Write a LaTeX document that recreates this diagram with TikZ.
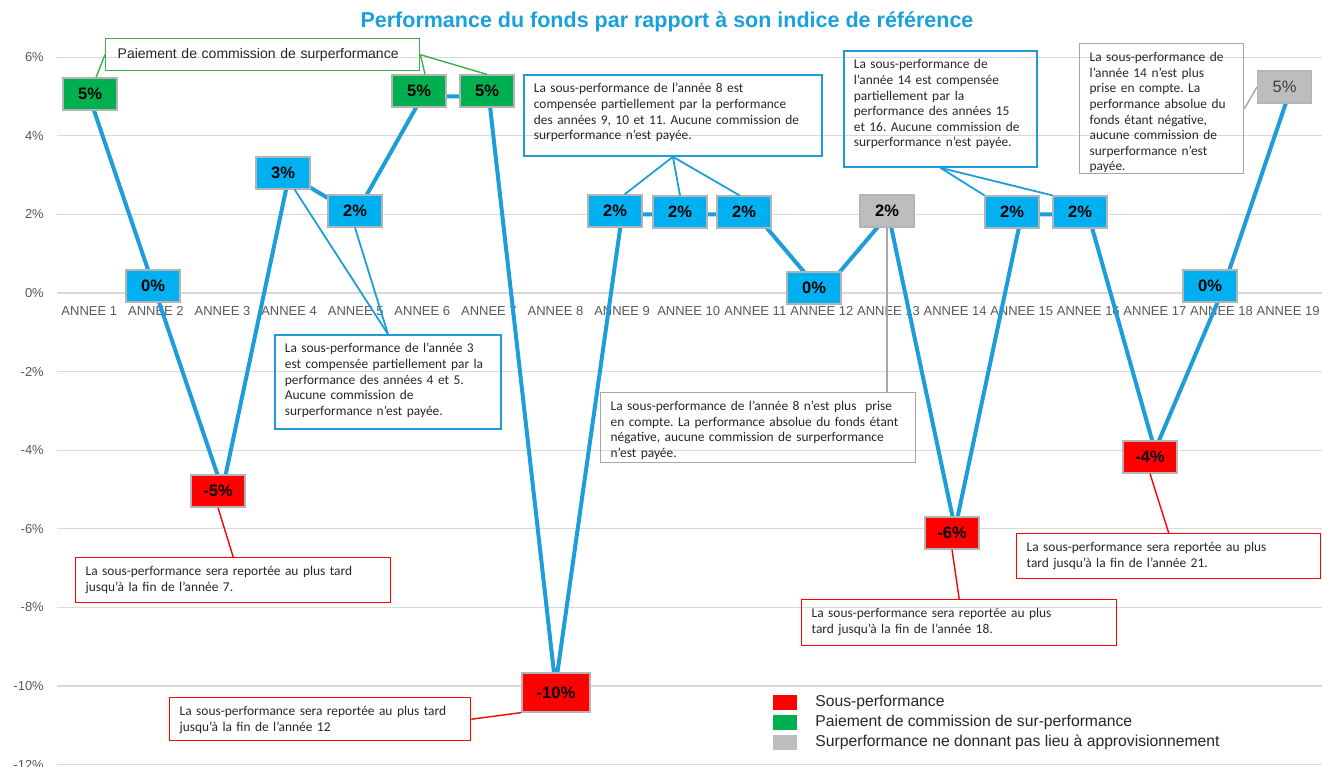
\documentclass[tikz,border=0pt]{standalone}
\usepackage{fontspec}
\setmainfont{Liberation Sans}
\newfontfamily\notefont{Carlito}
\usepackage{xcolor}
\definecolor{lineblue}{HTML}{1E9ED9}
\definecolor{titleblue}{HTML}{1AA0DC}
\definecolor{valblue}{HTML}{00B0F0}
\definecolor{valgreen}{HTML}{00B050}
\definecolor{valred}{HTML}{FF0000}
\definecolor{valgray}{HTML}{BDBDBD}
\definecolor{valedge}{HTML}{B4B4B4}
\definecolor{gridgray}{HTML}{D9D9D9}
\definecolor{axisgray}{HTML}{595959}
\definecolor{notegray}{HTML}{A6A6A6}
\definecolor{notegreen}{HTML}{3DAE49}
\definecolor{inkgray}{HTML}{262626}
\usepackage{tikz}
\usetikzlibrary{positioning, calc}
\frenchspacing
\tikzset{
    val/.style = {rectangle, draw=valedge, line width=1.2pt, minimum width=54pt,
                  minimum height=32pt, inner sep=0pt,
                  font=\fontsize{16.5}{16.5}\selectfont\bfseries},
    blueval/.style = {val, fill=valblue},
    greenval/.style = {val, fill=valgreen},
    redval/.style = {val, fill=valred},
    grayval/.style = {val, fill=valgray},
    note/.style = {rectangle, anchor=north west, align=left, text=inkgray,
                   inner xsep=10pt, inner ysep=6pt, text height=12pt,
                   font=\notefont\frenchspacing\fontsize{13.4}{15.6}\selectfont},
    bluenote/.style = {note, draw=lineblue, line width=1.8pt},
    graynote/.style = {note, draw=notegray, line width=1.4pt},
    rednote/.style = {note, draw=valred, line width=1.4pt},
    series/.style = {line width=4pt, color=lineblue, line join=round},
    bluelink/.style = {line width=1.8pt, color=lineblue},
    graylink/.style = {line width=1.4pt, color=notegray},
    redlink/.style = {line width=1.4pt, color=valred},
    greenlink/.style = {line width=1.4pt, color=notegreen},
    gridline/.style = {line width=1.2pt, color=gridgray},
    axislabel/.style = {font=\fontsize{13}{13}\selectfont, text=axisgray},
    legbox/.style = {rectangle, minimum width=24pt, minimum height=15pt, inner sep=0pt},
    legtext/.style = {anchor=west, inner sep=0pt, text=inkgray,
                      font=\fontsize{15.7}{16}\selectfont},
}
\begin{document}
\begin{tikzpicture}[x=1pt, y=-1pt]
    \useasboundingbox (0,0) rectangle (1322,767);
    % grid and axes
    \foreach \v in {6,4,...,-12} {
        \draw[gridline] (57,{293-39.3*\v}) -- (1322,{293-39.3*\v});
        \node[axislabel, anchor=east, inner sep=0pt] at (44,{293-39.3*\v}) {\v\%};
    }
    \foreach \i in {1,...,19}
        \node[axislabel] at ({89.3+(\i-1)*66.6},311) {ANNEE \i};

    \node[font=\fontsize{21.5}{24}\selectfont\bfseries, text=titleblue] (title) at (667,22)
        {Performance du fonds par rapport à son indice de référence};

    % series
    \foreach \v [count=\i] in {5,0,-5,3,2,5,5,-10,2,2,2,0,2,-6,2,2,-4,0,5}
        \coordinate (p\i) at ({89.3+(\i-1)*66.6},{293-39.3*\v});
    \draw[series] (p1) \foreach \i in {2,...,19} { -- (p\i) };

    % data labels
    \node[greenval] (v1) at (90,94) {5\%};
    \node[blueval] (v2) at (153,286) {0\%};
    \node[redval] (v3) at (218,491) {-5\%};
    \node[blueval] (v4) at (283,173) {3\%};
    \node[blueval] (v5) at (355,211) {2\%};
    \node[greenval] (v6) at (419,91) {5\%};
    \node[greenval] (v7) at (487,91) {5\%};
    \node[redval, minimum width=68pt, minimum height=39pt] (v8) at (556,692.5) {-10\%};
    \node[blueval] (v9) at (615,211) {2\%};
    \node[blueval] (v10) at (680,212) {2\%};
    \node[blueval] (v11) at (744,212) {2\%};
    \node[blueval] (v12) at (814,288) {0\%};
    \node[grayval] (v13) at (887,211) {2\%};
    \node[redval] (v14) at (952,533) {-6\%};
    \node[blueval] (v15) at (1012,212) {2\%};
    \node[blueval] (v16) at (1080,212) {2\%};
    \node[redval] (v17) at (1150,457) {-4\%};
    \node[blueval] (v18) at (1210,286) {0\%};
    \node[grayval, font=\fontsize{16.5}{16.5}\selectfont, text=black!75] (v19) at (1284.5,87) {5\%};

    % callouts
    \node[rectangle, draw=notegreen, line width=1.4pt, anchor=north west,
          minimum height=32pt, text width=290pt, align=left, inner xsep=12pt,
          font=\fontsize{14}{14}\selectfont, text=inkgray] (pay) at (105,38)
        {Paiement de commission de surperformance};
    \node[bluenote, text width=278pt, text depth=57pt] (cmp8) at (523,74)
        {La sous-performance de l’année 8 est\\
         compensée partiellement par la performance\\
         des années 9, 10 et 11. Aucune commission de\\
         surperformance n’est payée.};
    \node[bluenote, text width=173pt, text depth=92pt] (cmp14) at (843,50)
        {La sous-performance de\\
         l’année 14 est compensée\\
         partiellement par la\\
         performance des années 15\\
         et 16. Aucune commission de\\
         surperformance n’est payée.};
    \node[graynote, text width=144pt, text depth=106pt] (gry14) at (1079,43)
        {La sous-performance de\\
         l’année 14 n’est plus\\
         prise en compte. La\\
         performance absolue du\\
         fonds étant négative,\\
         aucune commission de\\
         surperformance n’est\\
         payée.};
    \node[bluenote, text width=206pt, text depth=70pt] (cmp3) at (274,334)
        {La sous-performance de l’année 3\\
         est compensée partiellement par la\\
         performance des années 4 et 5.\\
         Aucune commission de\\
         surperformance n’est payée.};
    \node[graynote, text width=295pt, text depth=46pt] (gry8) at (600,392)
        {La sous-performance de l’année 8 n’est plus\ \ prise\\
         en compte. La performance absolue du fonds étant\\
         négative, aucune commission de surperformance\\
         n’est payée.};
    \node[rednote, text width=295pt, text depth=21pt] (red7) at (75,557)
        {La sous-performance sera reportée au plus tard\\
         jusqu’à la fin de l’année 7.};
    \node[rednote, text width=281pt, text depth=19pt] (red12) at (169,697)
        {La sous-performance sera reportée au plus tard\\
         jusqu’à la fin de l’année 12};
    \node[rednote, text width=295pt, text depth=22pt] (red18) at (801,599)
        {La sous-performance sera reportée au plus\\
         tard jusqu’à la fin de l’année 18.};
    \node[rednote, text width=284pt, text depth=21pt] (red21) at (1016,533)
        {La sous-performance sera reportée au plus\\
         tard jusqu’à la fin de l’année 21.};

    % leaders
    \draw[greenlink] (pay.west) -- (v1.70);
    \draw[greenlink] (pay.east) -- (v6.70);
    \draw[greenlink] (pay.east) -- (v7.north);
    \draw[bluelink] (cmp8.south) -- (v9.60);
    \draw[bluelink] (cmp8.south) -- (v10.north);
    \draw[bluelink] (cmp8.south) -- (v11.105);
    \draw[bluelink] (cmp14.south) -- (v15.north west);
    \draw[bluelink] (cmp14.south) -- (v16.north west);
    \draw[bluelink] (cmp3.north) -- (v4.-55);
    \draw[bluelink] (cmp3.north) -- (v5.south);
    \draw[graylink] (gry8.north -| v13.south) -- (v13.south);
    \draw[graylink] (gry14.east) -- (v19.west);
    \draw[redlink] (v3.south) -- (red7.north);
    \draw[redlink] (red12.east) -- (v8.south west);
    \draw[redlink] (v14.south) -- (red18.north);
    \draw[redlink] (v17.south) -- (red21.north);

    % legend
    \node[legbox, fill=valred] (lg1) at (785,702.5) {};
    \node[legbox, fill=valgreen] (lg2) at (785,722.5) {};
    \node[legbox, fill=valgray] (lg3) at (785,742.5) {};
    \node[legtext, right=18pt of lg1] (lt1) {Sous-performance};
    \node[legtext, right=18pt of lg2] (lt2) {Paiement de commission de sur-performance};
    \node[legtext, right=18pt of lg3] (lt3) {Surperformance ne donnant pas lieu à approvisionnement};
\end{tikzpicture}
\end{document}
